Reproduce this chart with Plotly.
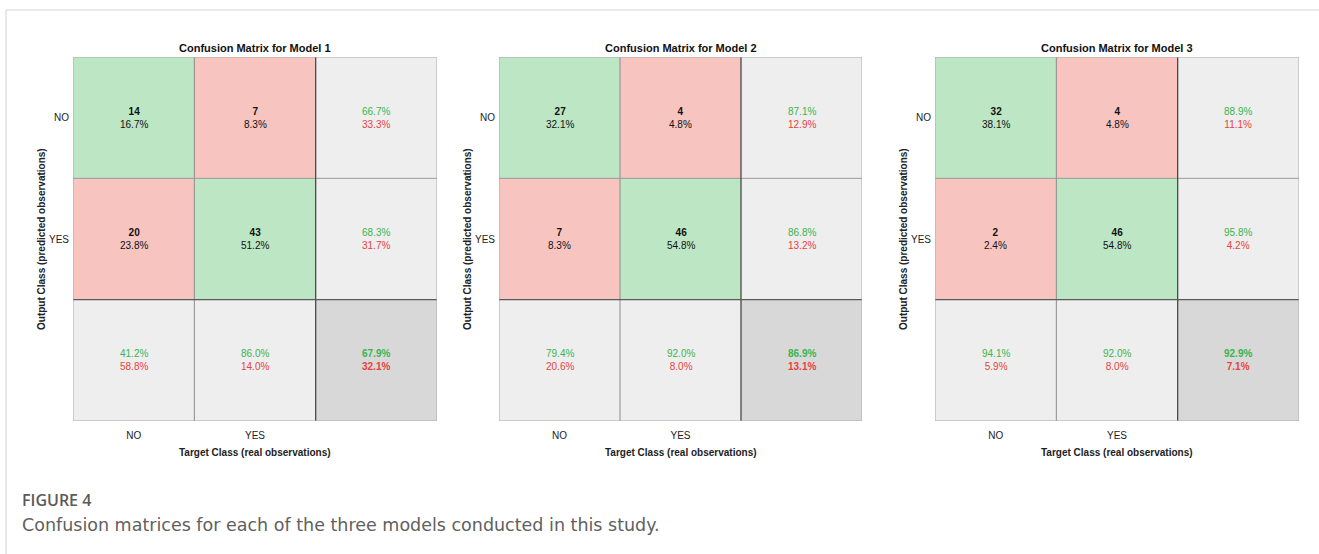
import plotly.graph_objects as go

# ---- data ----
models = ["Model 1", "Model 2", "Model 3"]
classes = ["NO", "YES"]
# rows = Output Class (NO, YES), cols = Target Class (NO, YES)
counts_m1 = [[14, 7], [20, 43]]
counts_m2 = [[27, 4], [7, 46]]
counts_m3 = [[32, 4], [2, 46]]
all_counts = [counts_m1, counts_m2, counts_m3]

GREEN = "#bce6c4"
RED = "#f7c4c0"
GRAY = "#eeeeee"
DGRAY = "#d8d8d8"
TXT_GREEN = "#3cb44b"
TXT_RED = "#e8433b"
FONT = "Liberation Sans, Arial, sans-serif"

W, H = 1319, 554
x_doms = [(73, 437), (499, 862), (935, 1299)]
y_top, y_bot = 57, 421

fig = go.Figure()

# cell colour codes: 0 green, 1 red, 2 gray, 3 dark gray
codes = [[0, 1, 2], [1, 0, 2], [2, 2, 3]]
cscale = [[0, GREEN], [0.25, GREEN], [0.25, RED], [0.5, RED],
          [0.5, GRAY], [0.75, GRAY], [0.75, DGRAY], [1, DGRAY]]

annotations = []
shapes = []

def pct(a, b):
    return f"{100.0 * a / b:.1f}%"

def two(g, r, bold=False):
    if bold:
        return (f"<span style='color:{TXT_GREEN}'><b>{g}</b></span><br>"
                f"<span style='color:{TXT_RED}'><b>{r}</b></span>")
    return (f"<span style='color:{TXT_GREEN}'>{g}</span><br>"
            f"<span style='color:{TXT_RED}'>{r}</span>")

def ann(**kw):
    d = dict(showarrow=False, xanchor="center", yanchor="middle")
    d.update(kw)
    annotations.append(d)

for k, (m, cm) in enumerate(zip(models, all_counts)):
    xa = "x" if k == 0 else f"x{k+1}"
    ya = "y" if k == 0 else f"y{k+1}"
    total = sum(sum(r) for r in cm)
    fig.add_trace(go.Heatmap(
        z=codes, x=[0, 1, 2], y=[0, 1, 2], zmin=0, zmax=3,
        colorscale=cscale, showscale=False, hoverinfo="skip",
        xaxis=xa, yaxis=ya))
    x0, x1 = x_doms[k]
    dom_x = [x0 / W, x1 / W]
    dom_y = [1 - y_bot / H, 1 - y_top / H]
    axkw = dict(showgrid=False, zeroline=False, ticks="", showline=False,
                tickfont=dict(family=FONT, size=10, color="#222"))
    fig.update_layout(**{
        ("xaxis" if k == 0 else f"xaxis{k+1}"): dict(
            domain=dom_x, range=[-0.5, 2.5], tickvals=[0, 1], ticktext=classes,
            anchor=ya, ticklabelstandoff=7, **axkw),
        ("yaxis" if k == 0 else f"yaxis{k+1}"): dict(
            domain=dom_y, range=[2.5, -0.5], tickvals=[0, 1], ticktext=classes,
            anchor=xa, ticklabelstandoff=3, **axkw),
    })
    xr, yr = xa, ya
    # grid lines
    shapes.append(dict(type="line", xref=xr, yref=yr, x0=0.5, x1=0.5, y0=-0.5, y1=2.5,
                       line=dict(color="#8c8c8c", width=1)))
    shapes.append(dict(type="line", xref=xr, yref=yr, y0=0.5, y1=0.5, x0=-0.5, x1=2.5,
                       line=dict(color="#9a9a9a", width=1)))
    shapes.append(dict(type="line", xref=xr, yref=yr, x0=1.5, x1=1.5, y0=-0.5, y1=2.5,
                       line=dict(color="#4a4a4a", width=1.3)))
    shapes.append(dict(type="line", xref=xr, yref=yr, y0=1.5, y1=1.5, x0=-0.5, x1=2.5,
                       line=dict(color="#5a5a5a", width=1.3)))
    shapes.append(dict(type="rect", xref=xr, yref=yr, x0=-0.5, x1=2.5, y0=-0.5, y1=2.5,
                       line=dict(color="#aaaaaa", width=1)))
    # main cells
    for i in range(2):
        for j in range(2):
            ann(x=j, y=i, xref=xr, yref=yr,
                text=f"<b>{cm[i][j]}</b><br>{pct(cm[i][j], total)}",
                font=dict(family=FONT, size=10, color="#111"))
    # row summaries
    for i in range(2):
        rs = sum(cm[i])
        ann(x=2, y=i, xref=xr, yref=yr,
            text=two(pct(cm[i][i], rs), pct(rs - cm[i][i], rs)),
            font=dict(family=FONT, size=10))
    # column summaries
    for j in range(2):
        cs = cm[0][j] + cm[1][j]
        ann(x=j, y=2, xref=xr, yref=yr,
            text=two(pct(cm[j][j], cs), pct(cs - cm[j][j], cs)),
            font=dict(family=FONT, size=10))
    corr = cm[0][0] + cm[1][1]
    ann(x=2, y=2, xref=xr, yref=yr,
        text=two(pct(corr, total), pct(total - corr, total), bold=True),
        font=dict(family=FONT, size=10))
    # titles / labels
    cx = (x0 + x1) / 2 / W
    ann(x=cx, y=1 - 48 / H, xref="paper", yref="paper",
        text=f"<b>Confusion Matrix for {m}</b>",
        font=dict(family=FONT, size=11, color="#111"))
    ann(x=cx, y=1 - 452 / H, xref="paper", yref="paper",
        text="<b>Target Class (real observations)</b>",
        font=dict(family=FONT, size=10, color="#222"))
    ann(x=(x0 - 32) / W, y=1 - 239 / H, xref="paper", yref="paper", textangle=-90,
        text="<b>Output Class (predicted observations)</b>",
        font=dict(family=FONT, size=10, color="#222"))

# page frame and caption
shapes.append(dict(type="line", xref="paper", yref="paper", x0=6 / W, x1=1, y0=1 - 10 / H, y1=1 - 10 / H,
                   line=dict(color="#d4d4d4", width=1)))
shapes.append(dict(type="line", xref="paper", yref="paper", x0=6 / W, x1=6 / W, y0=0, y1=1 - 10 / H,
                   line=dict(color="#d4d4d4", width=1)))
ann(x=20 / W, y=1 - 500 / H, xref="paper", yref="paper", xanchor="left",
    text="FIGURE 4",
    font=dict(family="Open Sans, sans-serif", size=16, color="#5a5a5a", weight=600))
ann(x=20 / W, y=1 - 525 / H, xref="paper", yref="paper", xanchor="left",
    text="Confusion matrices for each of the three models conducted in this study.",
    font=dict(family="DejaVu Sans, sans-serif", size=17.5, color="#606060"))

fig.update_layout(width=W, height=H, margin=dict(l=0, r=0, t=0, b=0),
                  paper_bgcolor="white", plot_bgcolor="white",
                  annotations=annotations, shapes=shapes, showlegend=False)

fig.write_html("out.html", config={"displayModeBar": False},
               post_script="document.body.style.margin='0';")
